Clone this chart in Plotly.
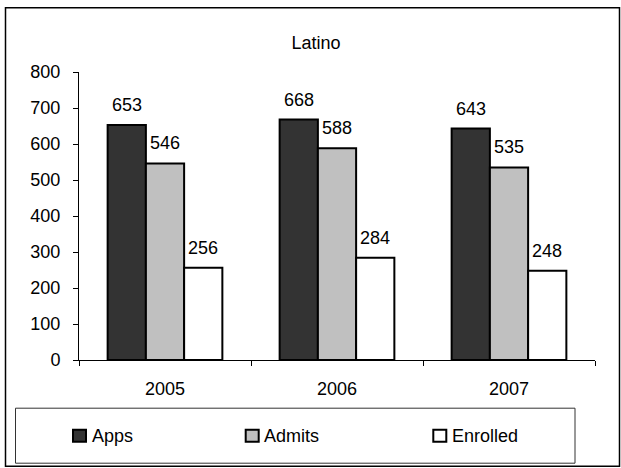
import plotly.graph_objects as go

# Admissions funnel for Latino applicants
years = ["2005", "2006", "2007"]
series_names = ["Apps", "Admits", "Enrolled"]
apps = [653, 668, 643]
admits = [546, 588, 535]
enrolled = [256, 284, 248]
series_values = [apps, admits, enrolled]
fill_colors = ["#333333", "#c0c0c0", "#ffffff"]
y_ticks = [0, 100, 200, 300, 400, 500, 600, 700, 800]

W, H = 621, 468
L, R, T, B = 79, 595, 72.3, 360.3  # plot area in pixels
BARGAP = 0.333

FONT = "Liberation Sans, Arial, sans-serif"


def px_x(p):
    return (p - L) / (R - L)


def px_y(p):
    return (B - p) / (B - T)


fig = go.Figure()
for name, vals, col in zip(series_names, series_values, fill_colors):
    fig.add_trace(go.Bar(
        x=years, y=vals, name=name,
        marker=dict(color=col, line=dict(color="#000000", width=2)),
        showlegend=False,
    ))

# value labels above each bar
n = len(series_names)
bw = (1 - BARGAP) / n
annotations = []
for k, vals in enumerate(series_values):
    for i, v in enumerate(vals):
        annotations.append(dict(
            x=i + (k - (n - 1) / 2) * bw, y=v, xref="x", yref="y",
            text=str(v), showarrow=False, yanchor="middle", yshift=20,
            font=dict(family=FONT, size=18, color="#000000"),
        ))

shapes = []
# outer frame
shapes.append(dict(type="rect", xref="paper", yref="paper",
                   x0=px_x(5.5), x1=px_x(619.5), y0=px_y(8), y1=px_y(466.5),
                   line=dict(color="#000000", width=1.5), fillcolor="rgba(0,0,0,0)",
                   layer="below"))
# legend frame
shapes.append(dict(type="rect", xref="paper", yref="paper",
                   x0=px_x(15.5), x1=px_x(575), y0=px_y(408.5), y1=px_y(463.5),
                   line=dict(color="#333333", width=1), fillcolor="rgba(0,0,0,0)"))

# legend entries
legend_marker_x = [73, 245.7, 433.3]
for name, col, mx in zip(series_names, fill_colors, legend_marker_x):
    shapes.append(dict(type="rect", xref="paper", yref="paper",
                       x0=px_x(mx), x1=px_x(mx + 13), y0=px_y(430), y1=px_y(442),
                       line=dict(color="#000000", width=2), fillcolor=col))
    annotations.append(dict(
        x=px_x(mx + 16.5), y=px_y(436), xref="paper", yref="paper",
        text=name, showarrow=False, xanchor="left", yanchor="middle",
        font=dict(family=FONT, size=18, color="#000000"),
    ))

fig.update_layout(
    width=W, height=H,
    margin=dict(l=L, r=W - R, t=T, b=H - B, pad=0),
    paper_bgcolor="#ffffff", plot_bgcolor="#ffffff",
    barmode="group", bargap=BARGAP, bargroupgap=0,
    font=dict(family=FONT, size=18, color="#000000"),
    title=dict(text="Latino", xref="container", yref="container",
               x=316 / W, y=1 - 43 / H, xanchor="center", yanchor="middle",
               font=dict(family=FONT, size=18, color="#000000")),
    xaxis=dict(type="category", showline=True, linecolor="#000000", linewidth=1,
               ticks="outside", tickson="boundaries", ticklen=5, tickcolor="#000000",
               showgrid=False, zeroline=False, ticklabelstandoff=12),
    yaxis=dict(range=[0, 800], tickvals=y_ticks, showline=True, linecolor="#000000",
               linewidth=1, ticks="outside", ticklen=5, tickcolor="#000000",
               showgrid=False, zeroline=False, ticklabelstandoff=9),
    annotations=annotations,
    shapes=shapes,
    showlegend=False,
)

fig.write_html("out.html")
